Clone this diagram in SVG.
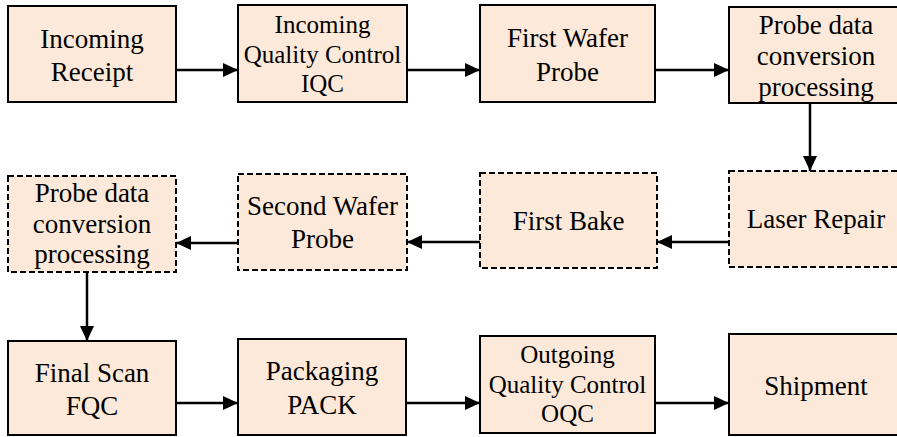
<svg xmlns="http://www.w3.org/2000/svg" width="897" height="437" viewBox="0 0 897 437">
<style>
.box{fill:#FDE9D9;stroke:#000;stroke-width:2}
.dash{stroke-dasharray:6,3}
.conn{stroke:#000;stroke-width:2.5;fill:none}
</style>
<defs>
<marker id="arr" viewBox="0 0 15 14" refX="15" refY="7" markerWidth="15" markerHeight="14" markerUnits="userSpaceOnUse" orient="auto">
<path d="M0,0 L15,7 L0,14 z" fill="#000"/>
</marker>
</defs>
<rect width="897" height="437" fill="#fff"/>
<g id="connectors">
<line class="conn" x1="176" y1="70" x2="238" y2="70" marker-end="url(#arr)"/>
<line class="conn" x1="407" y1="70" x2="480" y2="70" marker-end="url(#arr)"/>
<line class="conn" x1="655" y1="70" x2="729" y2="70" marker-end="url(#arr)"/>
<line class="conn" x1="810" y1="103" x2="810" y2="171" marker-end="url(#arr)"/>
<line class="conn" x1="729" y1="242" x2="657" y2="242" marker-end="url(#arr)"/>
<line class="conn" x1="480" y1="242" x2="407" y2="242" marker-end="url(#arr)"/>
<line class="conn" x1="238" y1="243" x2="176" y2="243" marker-end="url(#arr)"/>
<line class="conn" x1="87" y1="272" x2="87" y2="341" marker-end="url(#arr)"/>
<line class="conn" x1="176" y1="403" x2="238" y2="403" marker-end="url(#arr)"/>
<line class="conn" x1="406" y1="403" x2="480" y2="403" marker-end="url(#arr)"/>
<line class="conn" x1="655" y1="403" x2="729" y2="403" marker-end="url(#arr)"/>
</g>
<g font-family="Liberation Serif, DejaVu Serif, serif" font-size="27" text-anchor="middle" fill="#000">
<g id="n1"><rect class="box" x="8" y="6" width="168" height="96"/><text x="92" y="48">Incoming</text><text x="92" y="81">Receipt</text></g>
<g id="n2" font-size="25"><rect class="box" x="238" y="5" width="169" height="97"/><text x="322.5" y="33">Incoming</text><text x="322.5" y="63">Quality Control</text><text x="322.5" y="92">IQC</text></g>
<g id="n3"><rect class="box" x="480" y="5" width="175" height="97"/><text x="567.5" y="47">First Wafer</text><text x="567.5" y="81">Probe</text></g>
<g id="n4"><rect class="box" x="729" y="7" width="171" height="96"/><text x="816" y="34">Probe data</text><text x="816" y="65">conversion</text><text x="816" y="96">processing</text></g>
<g id="n5"><rect class="box dash" x="729" y="171" width="171" height="96"/><text x="816" y="228">Laser Repair</text></g>
<g id="n6"><rect class="box dash" x="480" y="173" width="177" height="95"/><text x="568.5" y="230">First Bake</text></g>
<g id="n7"><rect class="box dash" x="238" y="174" width="169" height="96"/><text x="322.5" y="215">Second Wafer</text><text x="322.5" y="248">Probe</text></g>
<g id="n8"><rect class="box dash" x="8" y="176" width="168" height="96"/><text x="92" y="202">Probe data</text><text x="92" y="233">conversion</text><text x="92" y="263">processing</text></g>
<g id="n9"><rect class="box" x="8" y="341" width="168" height="94"/><text x="92" y="382">Final Scan</text><text x="92" y="415">FQC</text></g>
<g id="n10"><rect class="box" x="238" y="339" width="168" height="96"/><text x="322" y="380">Packaging</text><text x="322" y="414">PACK</text></g>
<g id="n11" font-size="25"><rect class="box" x="480" y="336" width="175" height="97"/><text x="567.5" y="363">Outgoing</text><text x="567.5" y="393">Quality Control</text><text x="567.5" y="422">OQC</text></g>
<g id="n12"><rect class="box" x="729" y="334" width="171" height="101"/><text x="816" y="395">Shipment</text></g>
</g>
</svg>
